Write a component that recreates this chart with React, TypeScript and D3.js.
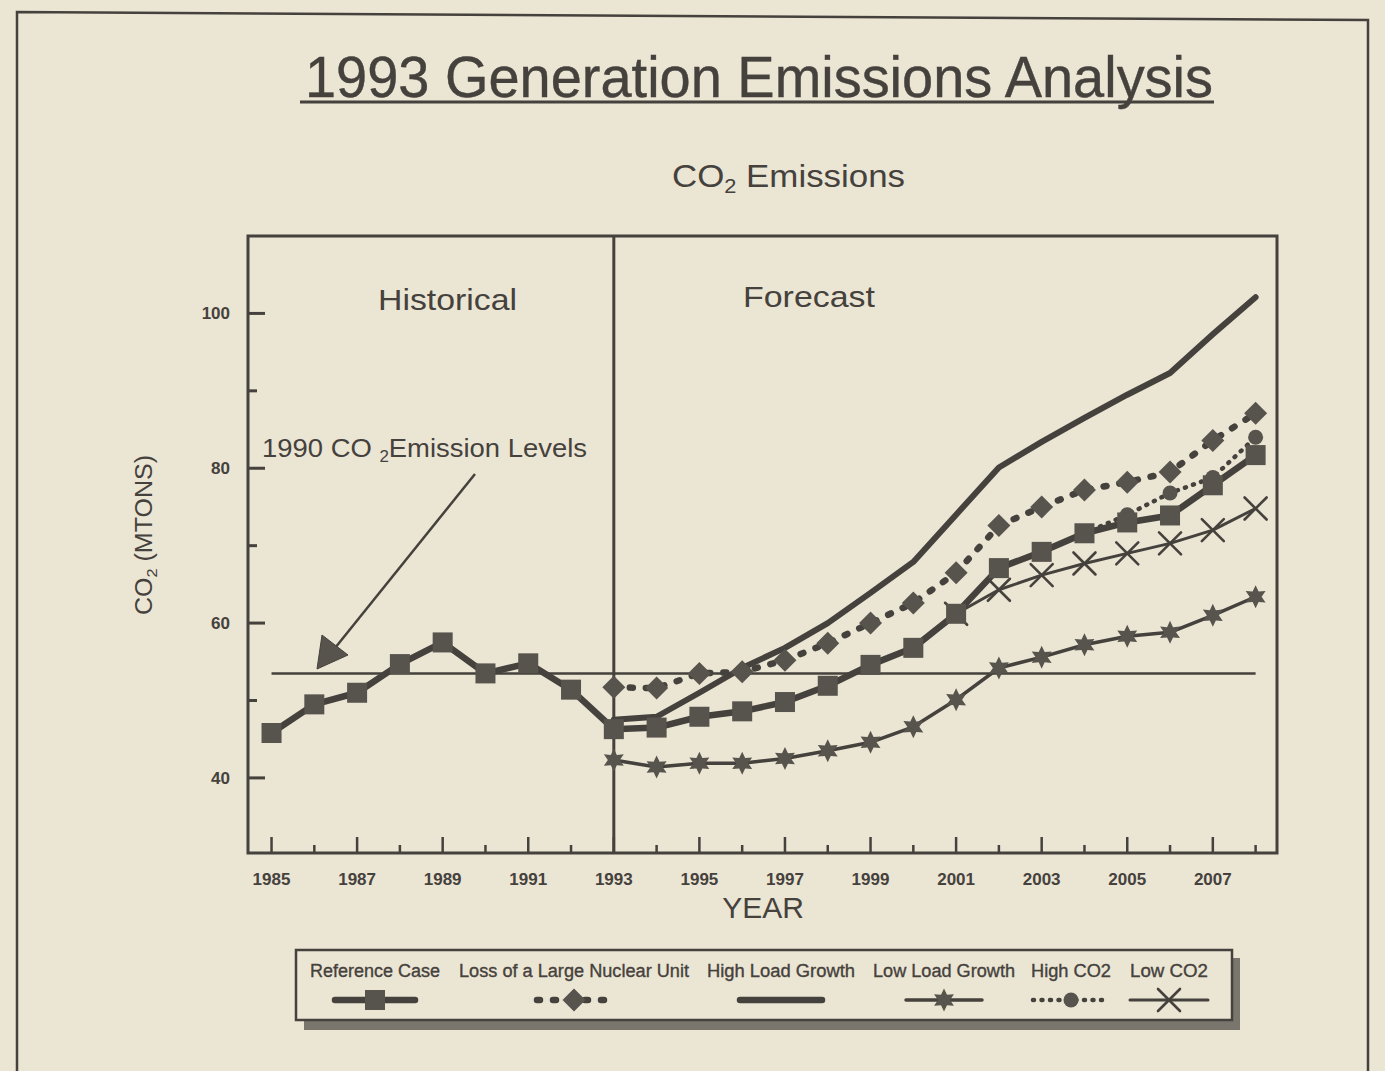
import React from "react";
import * as d3 from "d3";

// ---------- DATA ----------
const refYears = [1985, 1986, 1987, 1988, 1989, 1990, 1991, 1992, 1993, 1994, 1995, 1996, 1997, 1998, 1999, 2000, 2001, 2002, 2003, 2004, 2005, 2006, 2007, 2008];
const referenceCase = [45.8, 49.5, 51.0, 54.7, 57.5, 53.5, 54.8, 51.4, 46.3, 46.5, 47.9, 48.6, 49.8, 51.9, 54.6, 56.8, 61.2, 67.1, 69.2, 71.6, 73.0, 73.9, 77.8, 81.7];

const forecastYears = [1993, 1994, 1995, 1996, 1997, 1998, 1999, 2000, 2001, 2002, 2003, 2004, 2005, 2006, 2007, 2008];
const lossNuclear = [51.7, 51.6, 53.5, 53.7, 55.2, 57.4, 60.0, 62.6, 66.5, 72.6, 75.0, 77.2, 78.2, 79.5, 83.6, 87.1];
const highLoad = [47.5, 47.9, 51.0, 54.2, 56.8, 60.0, 63.9, 67.9, 74.0, 80.1, 83.4, 86.5, 89.5, 92.3, 97.3, 102.1];
const lowLoad = [42.3, 41.4, 41.9, 41.9, 42.5, 43.5, 44.6, 46.6, 50.1, 54.2, 55.6, 57.2, 58.3, 58.8, 61.0, 63.4];

const highCO2Years = [2004, 2005, 2006, 2007, 2008];
const highCO2 = [71.6, 74.0, 76.8, 78.8, 84.0];

const lowCO2Years = [2001, 2002, 2003, 2004, 2005, 2006, 2007, 2008];
const lowCO2 = [61.2, 64.3, 66.2, 67.7, 69.0, 70.3, 72.0, 74.8];

const level1990 = 53.5;
const levelSpan = [1985, 2008];
const dividerYear = 1993;

const yMajorTicks = [40, 60, 80, 100];
const yMinorTicks = [50, 70, 90];
const xMajorTicks = [1985, 1987, 1989, 1991, 1993, 1995, 1997, 1999, 2001, 2003, 2005, 2007];
const xMinorTicks = [1986, 1988, 1990, 1992, 1994, 1996, 1998, 2000, 2002, 2004, 2006, 2008];

const legendLabels = ["Reference Case", "Loss of a Large Nuclear Unit", "High Load Growth", "Low Load Growth", "High CO2", "Low CO2"];

// ---------- STYLE ----------
const BG = "#ebe5d4";
const INK = "#45413c";
const FILL = "#57534d";
const FONT = "'Liberation Sans', Arial, Helvetica, sans-serif";

const W = 1385;
const H = 1071;

function zip(xs: number[], ys: number[]): [number, number][] {
  return xs.map((v, i) => [v, ys[i]]);
}

function starPath(cx: number, cy: number, R: number, r: number) {
  const pts: string[] = [];
  for (let i = 0; i < 12; i++) {
    const a = (Math.PI / 6) * i - Math.PI / 2;
    const rad = i % 2 === 0 ? R : r;
    pts.push(`${cx + rad * Math.cos(a)},${cy + rad * Math.sin(a)}`);
  }
  return "M" + pts.join("L") + "Z";
}

function diamondPath(cx: number, cy: number, s: number) {
  return `M${cx},${cy - s}L${cx + s},${cy}L${cx},${cy + s}L${cx - s},${cy}Z`;
}

type Kind = "square" | "diamond" | "star" | "circle" | "x" | "none";

function Marker({ kind, cx, cy }: { kind: Kind; cx: number; cy: number }) {
  if (kind === "square") return <rect x={cx - 10} y={cy - 10} width={20} height={20} fill={FILL} />;
  if (kind === "diamond") return <path d={diamondPath(cx, cy, 11.5)} fill={FILL} />;
  if (kind === "star") return <path d={starPath(cx, cy, 11.5, 6)} fill={FILL} />;
  if (kind === "circle") return <circle cx={cx} cy={cy} r={7.5} fill={FILL} />;
  if (kind === "x")
    return (
      <g stroke={INK} strokeWidth={2.6} strokeLinecap="round">
        <line x1={cx - 11} y1={cy - 11} x2={cx + 11} y2={cy + 11} />
        <line x1={cx - 11} y1={cy + 11} x2={cx + 11} y2={cy - 11} />
      </g>
    );
  return null;
}

export default function App() {
  const plotL = 248, plotR = 1277, plotT = 236, plotB = 853;
  const x = d3.scaleLinear().domain([1984.45, 2008.5]).range([plotL, plotR]);
  const y = d3.scaleLinear().domain([30.3, 110]).range([plotB, plotT]);
  const line = d3.line<[number, number]>().x((d) => x(d[0])).y((d) => y(d[1]));

  const series = [
    { name: "highLoad", pts: zip(forecastYears, highLoad), w: 6, dash: undefined as string | undefined, kind: "none" as Kind },
    { name: "lowLoad", pts: zip(forecastYears, lowLoad), w: 3.5, dash: undefined, kind: "star" as Kind },
    { name: "lowCO2", pts: zip(lowCO2Years, lowCO2), w: 3, dash: undefined, kind: "x" as Kind },
    { name: "loss", pts: zip(forecastYears, lossNuclear), w: 6.5, dash: "3 13", kind: "diamond" as Kind },
    { name: "highCO2", pts: zip(highCO2Years, highCO2), w: 4.5, dash: "1 7.5", kind: "circle" as Kind },
    { name: "ref", pts: zip(refYears, referenceCase), w: 6.5, dash: undefined, kind: "square" as Kind },
  ];

  // legend layout
  const legendBox = { x: 296, y: 950, w: 936, h: 70 };
  const legendCenters = [375, 574, 781, 944, 1071, 1169];
  const legendWidths = [130, 230, 148, 142, 80, 78];
  const legendHalfLine = [40, 37, 41, 38, 38, 39];
  const legendKinds: Kind[] = ["square", "diamond", "none", "star", "circle", "x"];
  const legendStroke = [6.5, 6.5, 6.5, 3.5, 4.5, 3];
  const legendDash = [undefined, "3 13", undefined, undefined, "1 7.5", undefined];

  return (
    <svg
      width={W}
      height={H}
      viewBox={`0 0 ${W} ${H}`}
      style={{ position: "absolute", left: 0, top: 0, display: "block", background: BG }}
      fontFamily={FONT}
    >
      <rect x={0} y={0} width={W} height={H} fill={BG} />
      {/* page frame */}
      <path d={`M17,${H}L17,12L1368,20L1368,${H}`} fill="none" stroke={INK} strokeWidth={2.5} />

      {/* Title */}
      <text x={305} y={97} fontSize={57} fill={INK} stroke={INK} strokeWidth={0.4} textLength={908} lengthAdjust="spacingAndGlyphs">
        1993 Generation Emissions Analysis
      </text>
      <line x1={300} x2={1214} y1={102} y2={102} stroke={INK} strokeWidth={3} />

      {/* Subtitle */}
      <text x={672} y={187} fontSize={32} fill={INK} textLength={233} lengthAdjust="spacingAndGlyphs">
        CO<tspan fontSize={20} dy={6}>2</tspan>
        <tspan dy={-6}>{" Emissions"}</tspan>
      </text>

      {/* Plot frame */}
      <rect x={plotL} y={plotT} width={plotR - plotL} height={plotB - plotT} fill="none" stroke={INK} strokeWidth={3} />
      <line x1={x(dividerYear)} x2={x(dividerYear)} y1={plotT} y2={plotB} stroke={INK} strokeWidth={3} />

      {/* Y ticks */}
      {yMajorTicks.map((t) => (
        <g key={"ym" + t}>
          <line x1={plotL} x2={plotL + 17} y1={y(t)} y2={y(t)} stroke={INK} strokeWidth={3} />
          <text x={plotL - 18} y={y(t)} dy="0.35em" textAnchor="end" fontSize={17} fontWeight="bold" fill={INK}>
            {t}
          </text>
        </g>
      ))}
      {yMinorTicks.map((t) => (
        <line key={"yn" + t} x1={plotL} x2={plotL + 9} y1={y(t)} y2={y(t)} stroke={INK} strokeWidth={3} />
      ))}

      {/* X ticks */}
      {xMajorTicks.map((t) => (
        <g key={"xm" + t}>
          <line x1={x(t)} x2={x(t)} y1={plotB} y2={plotB - 16} stroke={INK} strokeWidth={2.5} />
          <text x={x(t)} y={885} textAnchor="middle" fontSize={17} fontWeight="bold" fill={INK}>
            {t}
          </text>
        </g>
      ))}
      {xMinorTicks.map((t) => (
        <line key={"xn" + t} x1={x(t)} x2={x(t)} y1={plotB} y2={plotB - 8} stroke={INK} strokeWidth={2.5} />
      ))}

      {/* Axis titles */}
      <text x={763} y={918} textAnchor="middle" fontSize={30} fill={INK}>
        YEAR
      </text>
      <text
        transform="translate(152,535) rotate(-90)"
        textAnchor="middle"
        fontSize={23}
        fill={INK}
        textLength={160}
        lengthAdjust="spacingAndGlyphs"
      >
        CO<tspan fontSize={15} dy={5}>2</tspan>
        <tspan dy={-5}>{" (MTONS)"}</tspan>
      </text>

      {/* Section labels */}
      <text x={378} y={310} fontSize={30} fill={INK} textLength={139} lengthAdjust="spacingAndGlyphs">
        Historical
      </text>
      <text x={743} y={307} fontSize={30} fill={INK} textLength={132} lengthAdjust="spacingAndGlyphs">
        Forecast
      </text>

      {/* 1990 level line */}
      <line x1={x(levelSpan[0])} x2={x(levelSpan[1])} y1={y(level1990)} y2={y(level1990)} stroke={INK} strokeWidth={2.5} />

      {/* Annotation */}
      <text x={262} y={457} fontSize={26} fill={INK} textLength={325} lengthAdjust="spacingAndGlyphs">
        1990 CO <tspan fontSize={16} dy={5}>2</tspan>
        <tspan dy={-5}>Emission Levels</tspan>
      </text>
      <line x1={475} y1={474} x2={335} y2={648} stroke={INK} strokeWidth={2.5} />
      <path d="M317,669L322,635L348,655Z" fill={FILL} stroke={INK} strokeWidth={1} />

      {/* Series */}
      {series.map((s) => (
        <g key={s.name}>
          <path
            d={line(s.pts) || ""}
            fill="none"
            stroke={INK}
            strokeWidth={s.w}
            strokeDasharray={s.dash}
            strokeLinecap="round"
            strokeLinejoin="round"
          />
          {s.kind !== "none" &&
            s.pts.map((p, i) => <Marker key={i} kind={s.kind} cx={x(p[0])} cy={y(p[1])} />)}
        </g>
      ))}

      {/* Legend */}
      <rect x={legendBox.x + 8} y={legendBox.y + legendBox.h} width={legendBox.w} height={10} fill="#7a756d" />
      <rect x={legendBox.x + legendBox.w} y={legendBox.y + 8} width={8} height={legendBox.h} fill="#7a756d" />
      <rect x={legendBox.x} y={legendBox.y} width={legendBox.w} height={legendBox.h} fill={BG} stroke={INK} strokeWidth={2.5} />
      {legendLabels.map((lab, i) => {
        const cx = legendCenters[i];
        const cy = 1000;
        return (
          <g key={lab}>
            <text
              x={cx}
              y={977}
              textAnchor="middle"
              fontSize={18}
              fill={INK}
              stroke={INK}
              strokeWidth={0.35}
              textLength={legendWidths[i]}
              lengthAdjust="spacingAndGlyphs"
            >
              {lab}
            </text>
            <line
              x1={cx - legendHalfLine[i]}
              x2={cx + legendHalfLine[i]}
              y1={cy}
              y2={cy}
              stroke={INK}
              strokeWidth={legendStroke[i]}
              strokeDasharray={legendDash[i]}
              strokeLinecap="round"
            />
            <Marker kind={legendKinds[i]} cx={cx} cy={cy} />
          </g>
        );
      })}
    </svg>
  );
}
